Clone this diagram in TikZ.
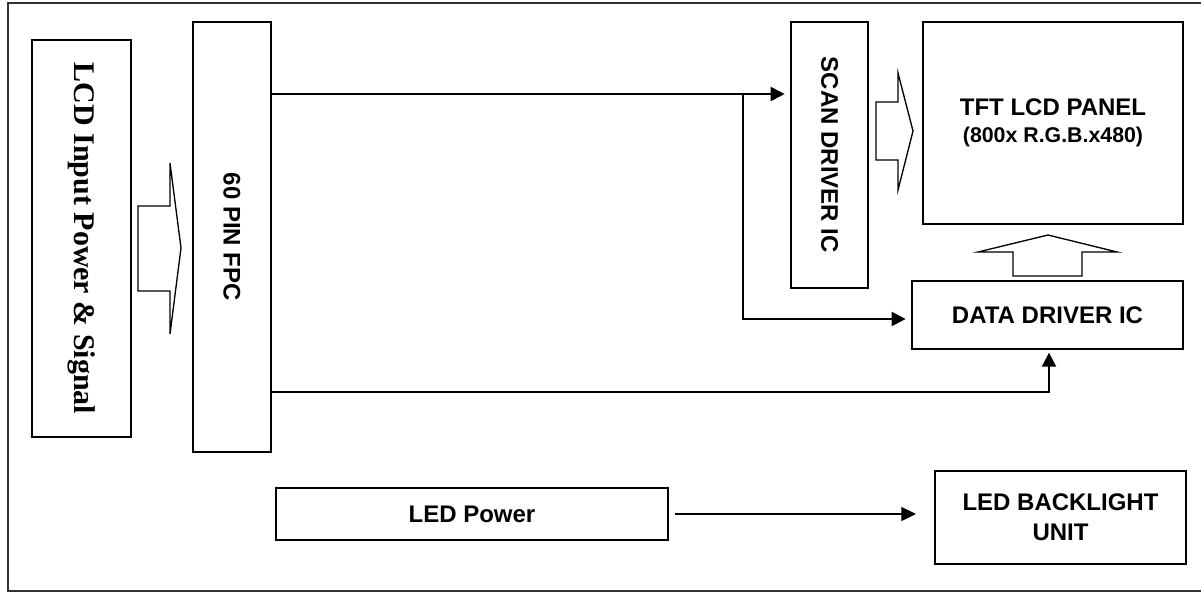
\documentclass[tikz,border=0pt]{standalone}
\usepackage{xcolor}
\usepackage{fontspec}
\setmainfont{Liberation Sans}
\newfontfamily\serifbold{Liberation Serif}
\usetikzlibrary{arrows.meta}

\tikzset{
  blockbox/.style={draw, line width=1.5pt, inner sep=0pt, align=center, font=\bfseries\fontsize{18}{22.5}\selectfont},
  conn/.style={line width=1.5pt, -{Triangle[length=10.5pt, width=10.5pt]}, shorten >=4pt},
  thinconn/.style={line width=0.9pt, -{Triangle[length=11pt, width=10.5pt]}},
  hollow/.style={draw, line width=1pt, line join=miter}
}

\begin{document}
\begin{tikzpicture}[x=0.75pt, y=-0.75pt]
      \useasboundingbox (0,0) rectangle (1201,592);
      % outer frame
      \draw[line width=0.8pt, black!80] (1201,3) -| (8,591) -- (1201,591);

      % blocks
      \node[blockbox, rotate=-90, minimum width=297.75pt, minimum height=74.25pt, font=\serifbold\bfseries\fontsize{22.5}{26}\selectfont] (lcdin) at (81.5,238.5) {LCD Input Power \& Signal};
      \node[blockbox, rotate=-90, minimum width=322.5pt, minimum height=58.5pt] (fpc) at (232,237) {60 PIN FPC};
      \node[blockbox, rotate=-90, minimum width=199.5pt, minimum height=57.75pt] (scan) at (829.5,155) {SCAN DRIVER IC};
      \node[blockbox, minimum width=195pt, minimum height=151.5pt] (panel) at (1053,123) {TFT LCD PANEL\\[-2pt]{\fontsize{16}{19}\selectfont (800x R.G.B.x480)}};
      \node[blockbox, minimum width=203.25pt, minimum height=51pt] (data) at (1047.5,315) {DATA DRIVER IC};
      \node[blockbox, minimum width=294pt, minimum height=39pt] (ledpow) at (472,514) {LED Power};
      \node[blockbox, minimum width=188.25pt, minimum height=69.75pt] (backlight) at (1060.5,517.5) {LED BACKLIGHT\\UNIT};

      % hollow bus arrows
      \draw[hollow] (138,206) -- (170,206) -- (170,163) -- (181,248) -- (170,334) -- (170,291) -- (138,291) -- cycle;
      \draw[hollow] (876,102) -- (898,102) -- (898,73) -- (913,131) -- (898,190) -- (898,160) -- (876,160) -- cycle;
      \draw[hollow] (1013,276) -- (1013,252) -- (978,252) -- (1048,235) -- (1117,252) -- (1082,252) -- (1082,276) -- cycle;

      % signal lines (rotated nodes: north is the right side, south the left)
      \coordinate (upper) at (0,94);
      \coordinate (branch) at (743,319);
      \coordinate (lower) at (1049,392);
      \draw[conn] (fpc.north |- upper) -- (scan.south |- upper);
      \draw[conn] (branch |- upper) |- (data.west |- branch);
      \draw[conn, shorten >=2pt] (fpc.north |- lower) -| (data.south -| lower);
      \draw[thinconn, shorten <=4.5pt, shorten >=13.5pt] (ledpow.east) -- (ledpow.east -| backlight.west);
    \end{tikzpicture}
\end{document}
